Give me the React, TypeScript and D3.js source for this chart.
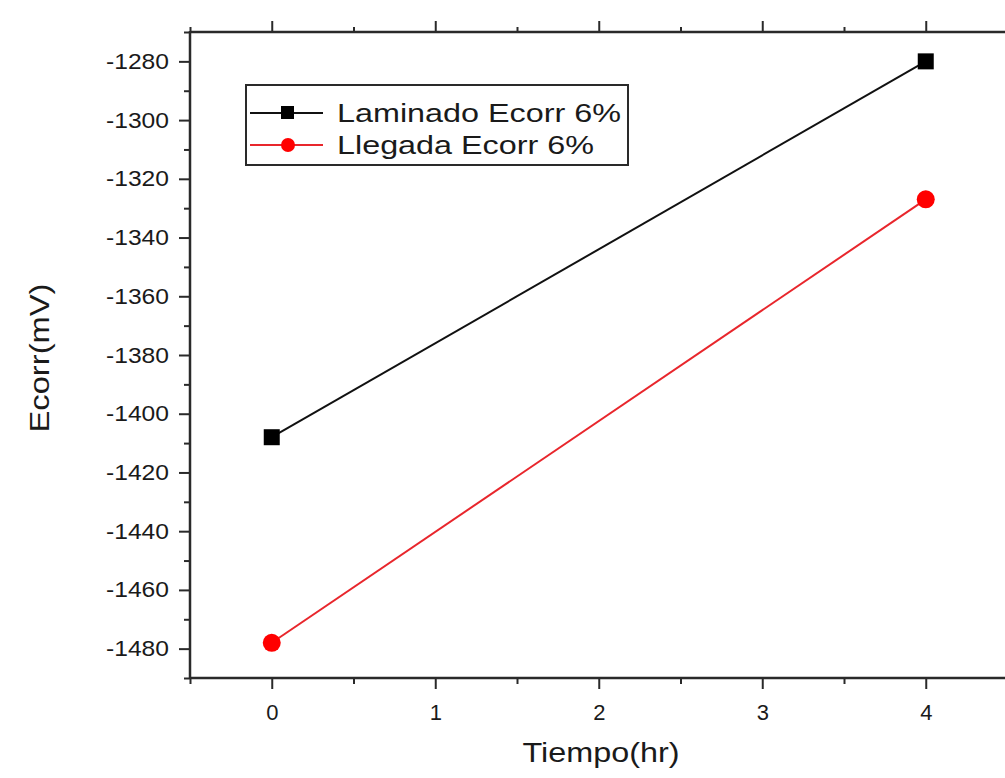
import React, { useEffect, useRef } from "react";
import * as d3 from "d3";

// tiempo (hr)
const tiempo = [0, 4];
// Ecorr (mV)
const laminado = [-1408, -1280];
const llegada = [-1478, -1327];
const seriesNames = ["Laminado Ecorr 6%", "Llegada Ecorr 6%"];
const xTickValues = [0, 1, 2, 3, 4];
const yTickValues = [-1480, -1460, -1440, -1420, -1400, -1380, -1360, -1340, -1320, -1300, -1280];

const W = 1005;
const H = 778;
const FONT = "'Liberation Sans', Arial, sans-serif";

const App = () => {
  const ref = useRef<SVGSVGElement>(null);

  useEffect(() => {
    const svg = d3.select(ref.current);
    svg.selectAll("*").remove();

    const left = 190;
    const top = 32;
    const bottom = 678;
    const x = d3.scaleLinear().domain([-0.5, 4.5]).range([left, 1007.5]);
    const y = d3.scaleLinear().domain([-1490, -1270]).range([bottom, top]);

    const axisColor = "#2a2a2a";
    const fmt = (d: any) => String(d); // plain hyphen, not unicode minus

    // minor ticks
    const xMinor = d3.range(-0.5, 4.51, 0.5).filter((v) => !xTickValues.includes(v));
    const yMinor = d3.range(-1490, -1269, 10).filter((v) => !yTickValues.includes(v));

    const styleAxis = (g: any) => {
      g.select(".domain").remove();
      g.selectAll("line").attr("stroke", axisColor).attr("stroke-width", 2);
      g.selectAll("text").attr("fill", "#1a1a1a").style("font-family", FONT);
    };

    // bottom axis
    svg.append("g")
      .attr("transform", `translate(0,${bottom})`)
      .call(d3.axisBottom(x).tickValues(xTickValues).tickSize(11).tickPadding(15).tickFormat(fmt))
      .call(styleAxis)
      .call((g: any) => g.selectAll("text").style("font-size", "22px"));
    svg.append("g")
      .attr("transform", `translate(0,${bottom})`)
      .call(d3.axisBottom(x).tickValues(xMinor).tickSize(6).tickFormat(() => ""))
      .call(styleAxis);

    // top axis
    svg.append("g")
      .attr("transform", `translate(0,${top})`)
      .call(d3.axisTop(x).tickValues(xTickValues).tickSize(11).tickFormat(() => ""))
      .call(styleAxis);
    svg.append("g")
      .attr("transform", `translate(0,${top})`)
      .call(d3.axisTop(x).tickValues(xMinor).tickSize(5).tickFormat(() => ""))
      .call(styleAxis);

    // left axis
    svg.append("g")
      .attr("transform", `translate(${left},0)`)
      .call(d3.axisLeft(y).tickValues(yTickValues).tickSize(11).tickPadding(10).tickFormat(fmt))
      .call(styleAxis)
      .call((g: any) => g.selectAll("text").style("font-size", "22px").attr("textLength", 63).attr("lengthAdjust", "spacingAndGlyphs"));
    svg.append("g")
      .attr("transform", `translate(${left},0)`)
      .call(d3.axisLeft(y).tickValues(yMinor).tickSize(6).tickFormat(() => ""))
      .call(styleAxis);

    // frame lines
    svg.append("line").attr("x1", left).attr("x2", W).attr("y1", top).attr("y2", top)
      .attr("stroke", axisColor).attr("stroke-width", 2.5);
    svg.append("line").attr("x1", left).attr("x2", W).attr("y1", bottom).attr("y2", bottom)
      .attr("stroke", axisColor).attr("stroke-width", 2.5);
    svg.append("line").attr("x1", left).attr("x2", left).attr("y1", top - 1).attr("y2", bottom + 1)
      .attr("stroke", axisColor).attr("stroke-width", 2.5);

    // series
    const line = d3.line<number>().x((_, i) => x(tiempo[i])).y((d) => y(d));
    svg.append("path").datum(laminado).attr("d", line).attr("fill", "none")
      .attr("stroke", "#111").attr("stroke-width", 2);
    svg.append("path").datum(llegada).attr("d", line).attr("fill", "none")
      .attr("stroke", "#e8262c").attr("stroke-width", 2);

    svg.selectAll("rect.pt").data(laminado).join("rect").attr("class", "pt")
      .attr("x", (_, i) => x(tiempo[i]) - 8).attr("y", (d) => y(d) - 8)
      .attr("width", 16).attr("height", 16).attr("fill", "#000");
    svg.selectAll("circle.pt").data(llegada).join("circle").attr("class", "pt")
      .attr("cx", (_, i) => x(tiempo[i])).attr("cy", (d) => y(d))
      .attr("r", 9).attr("fill", "#ff0000");

    // legend
    const lg = svg.append("g");
    lg.append("rect").attr("x", 246).attr("y", 85).attr("width", 382).attr("height", 80)
      .attr("fill", "white").attr("stroke", axisColor).attr("stroke-width", 2);
    const rows = [113, 145];
    seriesNames.forEach((name, i) => {
      const cy = rows[i];
      lg.append("line").attr("x1", 250).attr("x2", 323).attr("y1", cy).attr("y2", cy)
        .attr("stroke", i === 0 ? "#111" : "#e8262c").attr("stroke-width", 2);
      if (i === 0) {
        lg.append("rect").attr("x", 281).attr("y", cy - 7).attr("width", 13).attr("height", 13).attr("fill", "#000");
      } else {
        lg.append("circle").attr("cx", 288).attr("cy", cy).attr("r", 7).attr("fill", "#ff0000");
      }
      lg.append("text").attr("x", 337).attr("y", cy + 9)
        .attr("textLength", i === 0 ? 284 : 257).attr("lengthAdjust", "spacingAndGlyphs")
        .style("font-family", FONT).style("font-size", "26px").attr("fill", "#1a1a1a")
        .text(name);
    });

    // axis titles
    svg.append("text").attr("x", 601).attr("y", 762).attr("text-anchor", "middle")
      .style("font-family", FONT).style("font-size", "28px").attr("fill", "#1a1a1a")
      .attr("textLength", 157).attr("lengthAdjust", "spacingAndGlyphs")
      .text("Tiempo(hr)");
    svg.append("text").attr("transform", "translate(49,358) rotate(-90)").attr("text-anchor", "middle")
      .style("font-family", FONT).style("font-size", "28px").attr("fill", "#1a1a1a")
      .attr("textLength", 149).attr("lengthAdjust", "spacingAndGlyphs")
      .text("Ecorr(mV)");
  }, []);

  return (
    <svg ref={ref} width={W} height={H}
      style={{ position: "absolute", left: 0, top: 0, background: "white" }} />
  );
};

export default App;
